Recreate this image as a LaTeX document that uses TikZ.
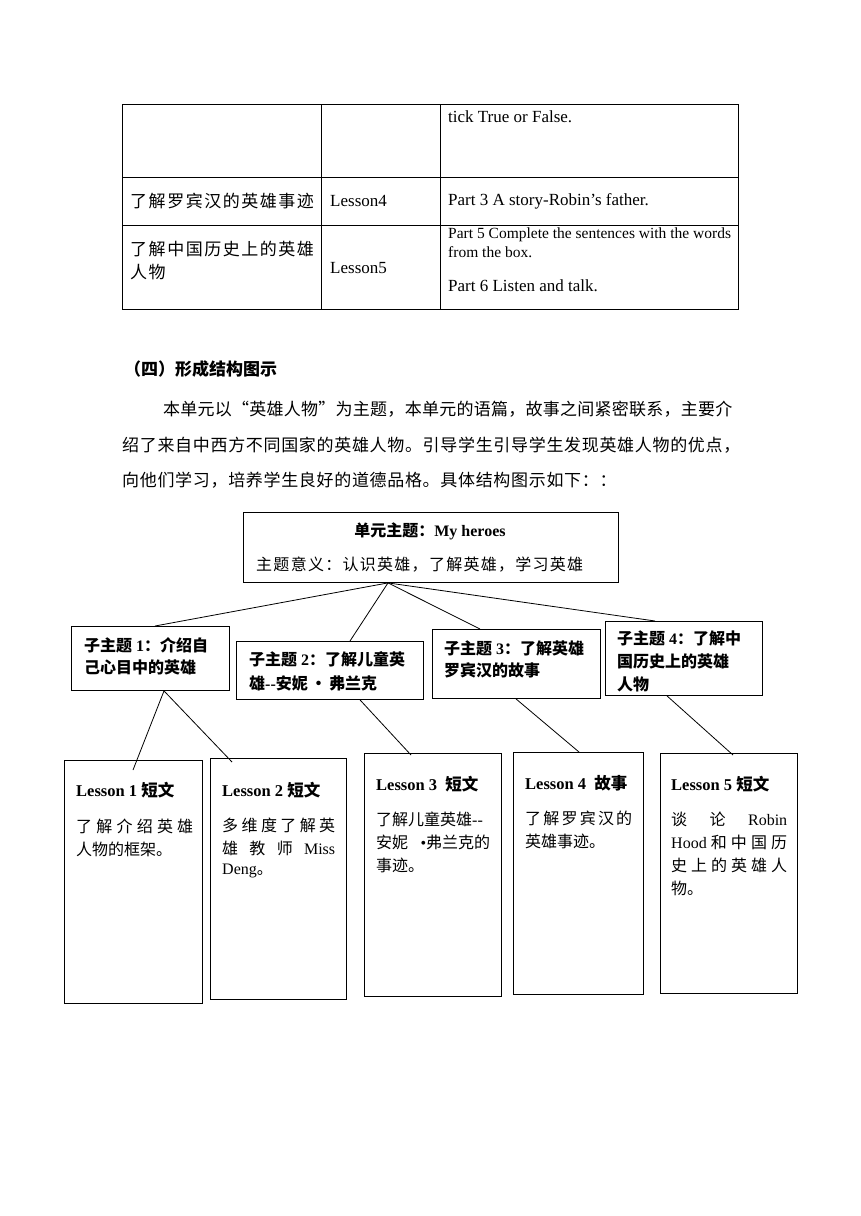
\documentclass[tikz,border=0pt]{standalone}
\usepackage{fontspec}
\setmainfont{Liberation Serif}
\newfontfamily\cjk{Noto Sans CJK SC}
\usetikzlibrary{calc}
\newcommand\zh[1]{{\cjk #1}}
\newcommand\fs[1]{\fontsize{#1}{#1}\selectfont}
\tikzset{
  box/.style={draw=black, line width=0.9pt, inner sep=0pt, anchor=north west},
  conn/.style={draw=black, line width=0.8pt},
  txt/.style={anchor=west, inner sep=0pt, font=\fs{16}},
  tabtxt/.style={anchor=west, inner sep=0pt, font=\fs{17}},
  body/.style={anchor=west, inner sep=0pt, font=\fs{17}},
}
\begin{document}
\begin{tikzpicture}[x=1pt,y=-1pt]
\useasboundingbox[fill=white] (0,0) rectangle (860,1216);
% ---------- table ----------
\draw[line width=0.8pt] (122,104) rectangle (738,309);
\draw[line width=0.8pt] (321,104) -- (321,309);
\draw[line width=0.8pt] (440,104) -- (440,309);
\draw[line width=0.8pt] (122,177) -- (738,177);
\draw[line width=0.8pt] (122,225) -- (738,225);
\node[tabtxt] (t1) at (448,117) {tick True or False.};
\node[tabtxt] (t2) at (130,201) {\zh{\addfontfeature{LetterSpace=9}了解罗宾汉的英雄事迹}};
\node[tabtxt] (t3) at (330,201) {Lesson4};
\node[tabtxt] (t4) at (448,201) {Part 3 A story-Robin’s father.};
\node[tabtxt] (t5) at (130,249) {\zh{\addfontfeature{LetterSpace=9}了解中国历史上的英雄}};
\node[tabtxt] (t6) at (130,272) {\zh{\addfontfeature{LetterSpace=9}人物}};
\node[tabtxt] (t7) at (330,268) {Lesson5};
\node[tabtxt, font=\fs{15.5}] (t8) at (448,235) {Part 5 Complete the sentences with the words};
\node[tabtxt, font=\fs{15.5}] (t9) at (448,252) {from the box.};
\node[tabtxt] (t10) at (448,286) {Part 6 Listen and talk.};
% ---------- heading and paragraph ----------
\node[body] (h) at (124,369) {\zh{\bfseries （四）形成结构图示}};
\node[body] (p1) at (163,409) {\zh{\addfontfeature{LetterSpace=1.5}本单元以“英雄人物”为主题，本单元的语篇，故事之间紧密联系，主要介}};
\node[body] (p2) at (122,445) {\zh{\addfontfeature{LetterSpace=4}绍了来自中西方不同国家的英雄人物。引导学生引导学生发现英雄人物的优点，}};
\node[body] (p3) at (122,480) {\zh{\addfontfeature{LetterSpace=4}向他们学习，培养学生良好的道德品格。具体结构图示如下：：}};
% ---------- top box ----------
\node[box, minimum width=375pt, minimum height=70pt] (top) at (243,512) {};
\node[anchor=center, inner sep=0pt, font=\fs{16}\bfseries] (toptitle) at (430,531) {\zh{单元主题：}My heroes};
\node[txt, font=\fs{16}] (topsub) at (256,565) {\zh{\addfontfeature{LetterSpace=8}主题意义：认识英雄，了解英雄，学习英雄}};
% ---------- sub topics ----------
\node[box, minimum width=158pt, minimum height=64pt] (s1) at (71,626) {};
\node[txt, font=\fs{16}\bfseries] (s1a) at (84,645) {\zh{子主题} 1\zh{：介绍自}};
\node[txt, font=\fs{16}\bfseries] (s1b) at (84,667) {\zh{己心目中的英雄}};
\node[box, minimum width=187pt, minimum height=58pt] (s2) at (236,641) {};
\node[txt, font=\fs{16}\bfseries] (s2a) at (249,659) {\zh{子主题} 2\zh{：了解儿童英}};
\node[txt, font=\fs{16}\bfseries] (s2b) at (249,683) {\zh{雄}-{}-\zh{安妮\,•\,弗兰克}};
\node[box, minimum width=168pt, minimum height=69pt] (s3) at (432,629) {};
\node[txt, font=\fs{16}\bfseries] (s3a) at (444,648) {\zh{子主题} 3\zh{：了解英雄}};
\node[txt, font=\fs{16}\bfseries] (s3b) at (444,670) {\zh{罗宾汉的故事}};
\node[box, minimum width=157pt, minimum height=74pt] (s4) at (605,621) {};
\node[txt, font=\fs{16}\bfseries] (s4a) at (617,638) {\zh{子主题} 4\zh{：了解中}};
\node[txt, font=\fs{16}\bfseries] (s4b) at (617,661) {\zh{国历史上的英雄}};
\node[txt, font=\fs{16}\bfseries] (s4c) at (617,684) {\zh{人物}};
% ---------- lessons ----------
\node[box, minimum width=138pt, minimum height=243pt] (l1) at (64,760) {};
\node[txt, font=\fs{16.5}\bfseries] (l1t) at (76,790) {Lesson 1 \zh{短文}};
\node[txt] (l1a) at (76,826) {\makebox[117pt][s]{\zh{了\hfil 解\hfil 介\hfil 绍\hfil 英\hfil 雄}}};
\node[txt] (l1b) at (76,849) {\zh{人物的框架。}};
\node[box, minimum width=136pt, minimum height=241pt] (l2) at (210,758) {};
\node[txt, font=\fs{16.5}\bfseries] (l2t) at (222,790) {Lesson 2 \zh{短文}};
\node[txt] (l2a) at (222,825) {\makebox[113pt][s]{\zh{多\hfil 维\hfil 度\hfil 了\hfil 解\hfil 英}}};
\node[txt] (l2b) at (222,848) {\makebox[113pt][s]{\zh{雄}\hfil\zh{教}\hfil\zh{师}\hfil Miss}};
\node[txt] (l2c) at (222,871) {Deng\zh{。}};
\node[box, minimum width=137pt, minimum height=243pt] (l3) at (364,753) {};
\node[txt, font=\fs{16.5}\bfseries] (l3t) at (376,784) {Lesson 3\ \ \zh{短文}};
\node[txt] (l3a) at (376,819) {\makebox[114pt][s]{\zh{了解儿童英雄}-{}-}};
\node[txt] (l3b) at (376,842) {\makebox[114pt][s]{\zh{安妮}\hfil •\zh{弗兰克的}}};
\node[txt] (l3c) at (376,865) {\zh{事迹。}};
\node[box, minimum width=130pt, minimum height=242pt] (l4) at (513,752) {};
\node[txt, font=\fs{16.5}\bfseries] (l4t) at (525,783) {Lesson 4\ \ \zh{故事}};
\node[txt] (l4a) at (525,818) {\makebox[107pt][s]{\zh{了\hfil 解\hfil 罗\hfil 宾\hfil 汉\hfil 的}}};
\node[txt] (l4b) at (525,841) {\zh{英雄事迹。}};
\node[box, minimum width=137pt, minimum height=240pt] (l5) at (660,753) {};
\node[txt, font=\fs{16.5}\bfseries] (l5t) at (671,784) {Lesson 5 \zh{短文}};
\node[txt] (l5a) at (671,819) {\makebox[116pt][s]{\zh{谈}\hfil\zh{论}\hfil Robin}};
\node[txt] (l5b) at (671,842) {\makebox[116pt][s]{Hood\hfil\zh{和\hfil 中\hfil 国\hfil 历}}};
\node[txt] (l5c) at (671,865) {\makebox[116pt][s]{\zh{史\hfil 上\hfil 的\hfil 英\hfil 雄\hfil 人}}};
\node[txt] (l5d) at (671,888) {\zh{物。}};
% ---------- connectors ----------
\coordinate (apex) at ($(top.south west)+(145,0)$);
\draw[conn] (apex) -- ($(s1.north west)+(84,0)$);
\draw[conn] (apex) -- ($(s2.north west)+(114,0)$);
\draw[conn] (apex) -- ($(s3.north west)+(48,0)$);
\draw[conn] (apex) -- ($(s4.north west)+(50,0)$);
\coordinate (s1foot) at ($(s1.south west)+(93,0)$);
\draw[conn] (s1foot) -- ($(l1.north west)+(69,10)$);
\draw[conn] (s1foot) -- ($(l2.north west)+(22,4)$);
\draw[conn] ($(s2.south west)+(124,0)$) -- ($(l3.north west)+(47,2)$);
\draw[conn] ($(s3.south west)+(84,0)$) -- ($(l4.north west)+(66,0)$);
\draw[conn] ($(s4.south west)+(62,0)$) -- ($(l5.north west)+(73,2)$);
\end{tikzpicture}
\end{document}
